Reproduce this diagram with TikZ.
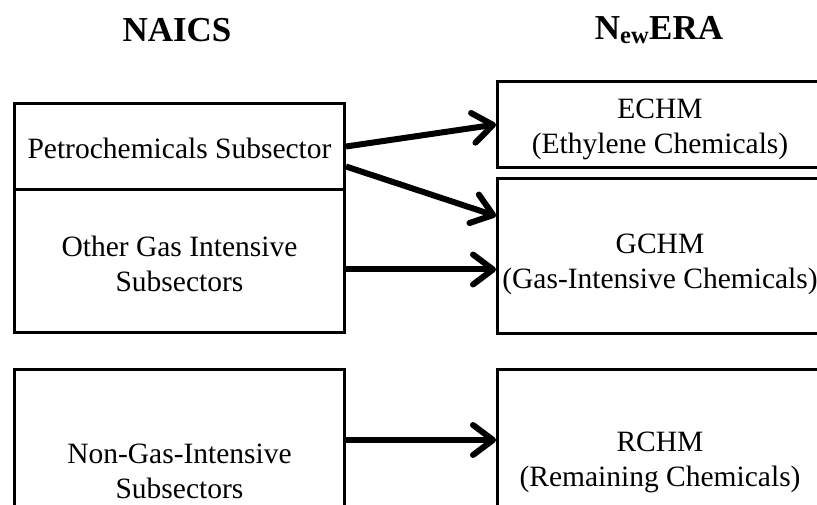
\documentclass[tikz,border=0pt]{standalone}
\usepackage{fontspec}
\setmainfont{Liberation Serif}
\usetikzlibrary{arrows.meta,calc}
\begin{document}
\begin{tikzpicture}[x=1pt,y=-1pt,
  box/.style={draw,line width=3pt,rectangle,anchor=north west,inner sep=0pt},
  txt/.style={align=center,inner sep=0pt,font=\fontsize{29.5}{35}\selectfont},
  head/.style={font=\fontsize{35}{40}\selectfont\bfseries},
  conn/.style={line width=6pt,-{Straight Barb[length=20pt,width=30pt,line cap=round,line join=round]}}]
\useasboundingbox (0,0) rectangle (817,505);
\clip (0,0) rectangle (817,505);
\node[head] (naics) at (177,30) {NAICS};
\node[head] (newera) at (659,30) {N\textsubscript{ew}ERA};
% boxes
\node[box,minimum width=330pt,minimum height=86pt] (petro) at (13,102) {};
\node[box,minimum width=330pt,minimum height=143pt] (other) at (13,188) {};
\node[box,minimum width=330pt,minimum height=180pt] (nongas) at (13,368) {};
\node[box,minimum width=325pt,minimum height=86pt] (echm) at (496,80) {};
\node[box,minimum width=325pt,minimum height=155pt] (gchm) at (496,177) {};
\node[box,minimum width=325pt,minimum height=180pt] (rchm) at (496,368) {};
% texts
\node[txt] (petrot) at ($(petro.center)+(0,2)$) {Petrochemicals Subsector};
\node[txt] (othert) at ($(other.center)+(0,3)$) {Other Gas Intensive\\Subsectors};
\node[txt] (nongast) at ($(nongas.north)+(0,103)$) {Non-Gas-Intensive\\Subsectors};
\node[txt] (echmt) at ($(echm.center)+(0,5)$) {ECHM\\(Ethylene Chemicals)};
\node[txt] (gchmt) at ($(gchm.center)+(0,8)$) {GCHM\\(Gas-Intensive Chemicals)};
\node[txt] (rchmt) at ($(rchm.north)+(0,94)$) {RCHM\\(Remaining Chemicals)};
% connectors
\coordinate (p2) at ($(petro.east)+(0,20)$);
\coordinate (q2) at ($(gchm.west)+(0,-40)$);
\coordinate (p3) at ($(other.east)+(0,8.5)$);
\coordinate (p4) at ($(nongas.north east)+(0,72)$);
\draw[conn] (petro.east) -- (echm.west);
\draw[conn] (p2) -- (q2);
\draw[conn] (p3) -- (gchm.west |- p3);
\draw[conn] (p4) -- (rchm.west |- p4);
\end{tikzpicture}
\end{document}
